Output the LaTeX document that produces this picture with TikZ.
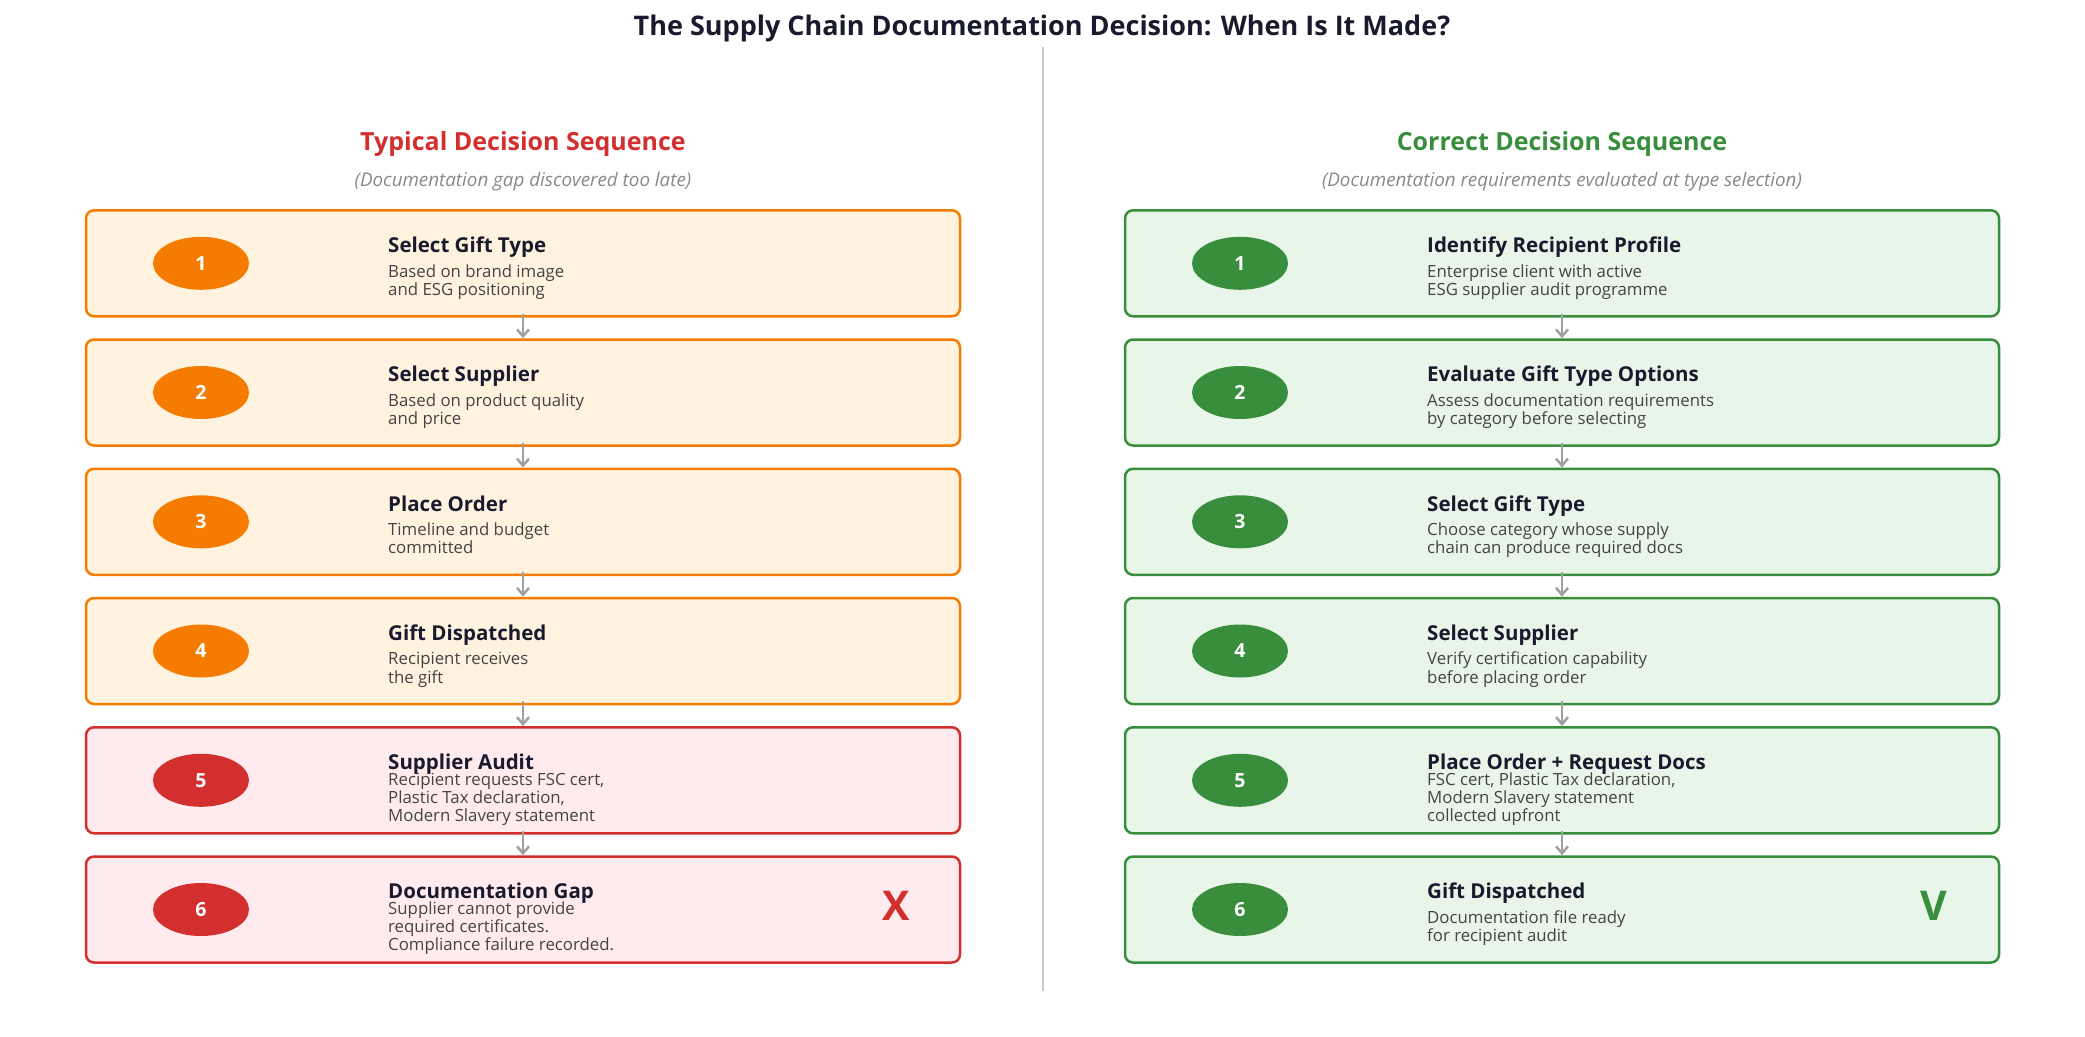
\documentclass[tikz,border=0pt]{standalone}
\usepackage{fontspec}
\setmainfont{Open Sans}
\usetikzlibrary{arrows.meta,shapes.geometric}
\definecolor{orangeD}{HTML}{F57C00}
\definecolor{orangeL}{HTML}{FFF3E0}
\definecolor{redD}{HTML}{D32F2F}
\definecolor{redL}{HTML}{FFEBEE}
\definecolor{greenD}{HTML}{388E3C}
\definecolor{greenL}{HTML}{E8F5E9}
\definecolor{titlec}{HTML}{1A1A2E}
\definecolor{descc}{HTML}{444444}
\definecolor{subc}{HTML}{888888}
\definecolor{arrowc}{HTML}{A0A0A0}
\definecolor{divc}{HTML}{CCCCCC}
\newcommand\descblock[1]{{\fontsize{16.8}{18.3}\selectfont\begin{tabular}[t]{@{}l@{}}#1\end{tabular}}}
% name, xc, yc, color, number, title, desc, nlines
\newcommand\mkstep[8]{%
  \node[stepbox, draw=#4D, fill=#4L] (#1) at (#2,#3) {};
  \node[numdisc, fill=#4D] (#1n) at ({#2-322},#3) {#5};
  \node[steptitle] (#1t) at ({#2-135},{#3-10.6}) {#6};
  \node[stepdesc] (#1d) at ({#2-135},{#3+23-(#8-1)*9.15}) {\descblock{#7}};
}
\begin{document}
\begin{tikzpicture}[x=1pt,y=-1pt,
  stepbox/.style={rectangle, line width=2.5pt, rounded corners=8pt, minimum width=874pt, minimum height=106pt, inner sep=0pt},
  numdisc/.style={ellipse, draw=none, minimum width=96pt, minimum height=53pt, inner sep=0pt, text=white, font=\fontsize{19.5}{22}\selectfont\bfseries},
  steptitle/.style={anchor=base west, inner sep=0pt, text=titlec, font=\fontsize{20.5}{24}\selectfont\bfseries},
  stepdesc/.style={anchor=base west, inner sep=0pt, text=descc},
  flow/.style={draw=arrowc, line width=2.5pt, shorten <=-4pt, -{Straight Barb[length=7pt,width=12pt]}},
  head/.style={anchor=base, inner sep=0pt, font=\fontsize{25}{30}\selectfont\bfseries},
  subhead/.style={anchor=base, inner sep=0pt, text=subc, font=\fontsize{18.8}{22}\selectfont\itshape},
]
\useasboundingbox (0,0) rectangle (2085,1036);
\node[anchor=base, inner sep=0pt, text=titlec, font=\fontsize{27}{32}\selectfont\bfseries] (title) at (1042,35) {The Supply Chain Documentation Decision: When Is It Made?};
\coordinate (divtop) at (1043,47);
\coordinate (divbot) at (1043,991);
\draw[divc, line width=2pt] (divtop) -- (divbot);
\node[head, text=redD] (lhead) at (523,150) {Typical Decision Sequence};
\node[subhead] (lsub) at (523,186.7) {(Documentation gap discovered too late)};
\node[head, text=greenD] (rhead) at (1562,150) {Correct Decision Sequence};
\node[subhead] (rsub) at (1562,186.7) {(Documentation requirements evaluated at type selection)};

\mkstep{L1}{523}{263.3}{orange}{1}{Select Gift Type}{Based on brand image\\and ESG positioning}{2}
\mkstep{L2}{523}{392.5}{orange}{2}{Select Supplier}{Based on product quality\\and price}{2}
\mkstep{L3}{523}{521.8}{orange}{3}{Place Order}{Timeline and budget\\committed}{2}
\mkstep{L4}{523}{651}{orange}{4}{Gift Dispatched}{Recipient receives\\the gift}{2}
\mkstep{L5}{523}{780.3}{red}{5}{Supplier Audit}{Recipient requests FSC cert,\\Plastic Tax declaration,\\Modern Slavery statement}{3}
\mkstep{L6}{523}{909.5}{red}{6}{Documentation Gap}{Supplier cannot provide\\required certificates.\\Compliance failure recorded.}{3}

\mkstep{R1}{1562}{263.3}{green}{1}{Identify Recipient Profile}{Enterprise client with active\\ESG supplier audit programme}{2}
\mkstep{R2}{1562}{392.5}{green}{2}{Evaluate Gift Type Options}{Assess documentation requirements\\by category before selecting}{2}
\mkstep{R3}{1562}{521.8}{green}{3}{Select Gift Type}{Choose category whose supply\\chain can produce required docs}{2}
\mkstep{R4}{1562}{651}{green}{4}{Select Supplier}{Verify certification capability\\before placing order}{2}
\mkstep{R5}{1562}{780.3}{green}{5}{Place Order + Request Docs}{FSC cert, Plastic Tax declaration,\\Modern Slavery statement\\collected upfront}{3}
\mkstep{R6}{1562}{909.5}{green}{6}{Gift Dispatched}{Documentation file ready\\for recipient audit}{2}

\node[anchor=base, inner sep=0pt, text=redD, font=\fontsize{41}{48}\selectfont\bfseries] (xmark) at (896,920.7) {X};
\node[anchor=base, inner sep=0pt, text=greenD, font=\fontsize{41}{48}\selectfont\bfseries] (vmark) at (1934,920.7) {V};

\foreach \s in {L,R}{
  \foreach \a/\b in {1/2,2/3,3/4,4/5,5/6}{
    \draw[flow] (\s\a) -- (\s\b);
  }
}
\end{tikzpicture}
\end{document}
